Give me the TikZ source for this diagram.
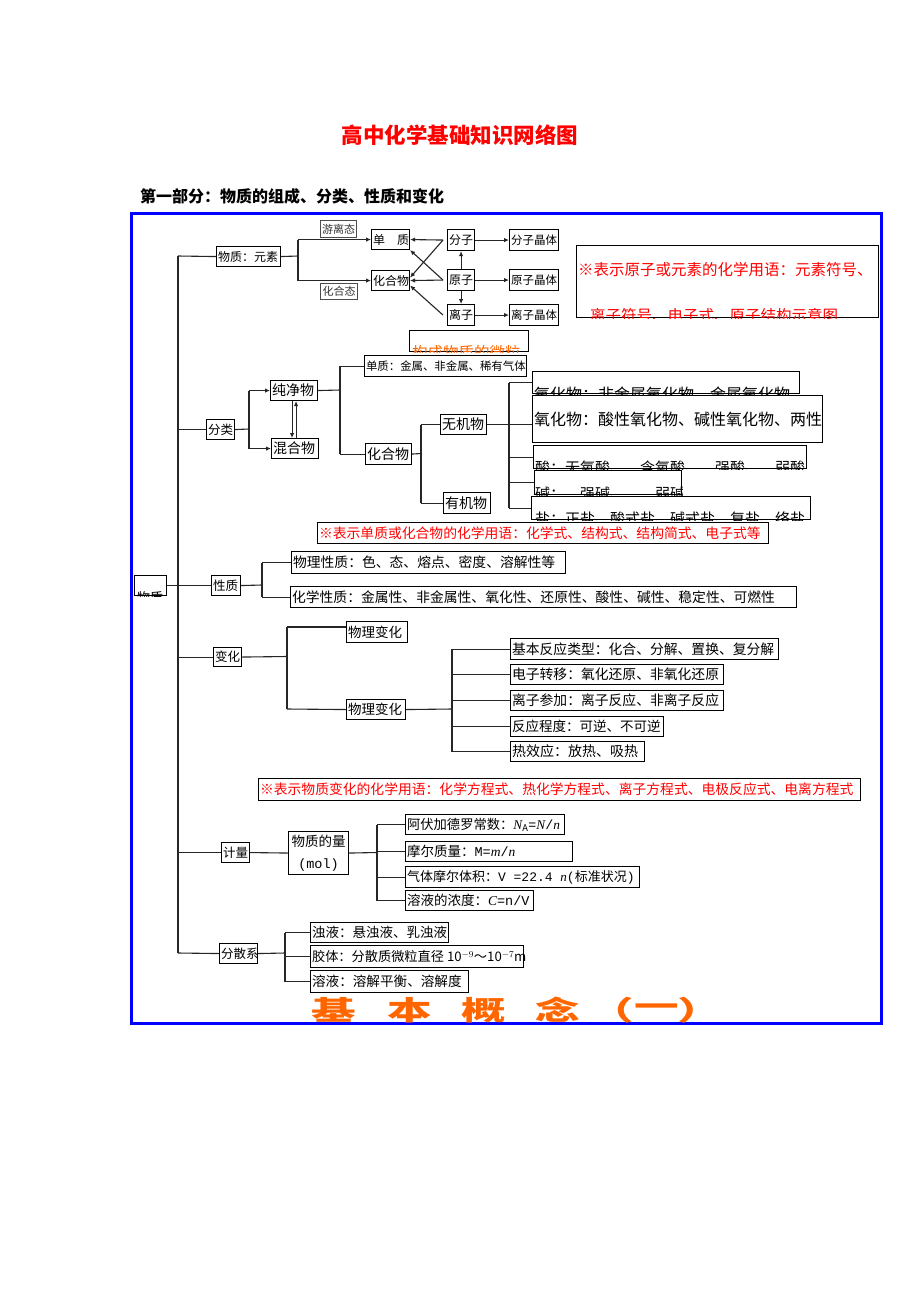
\documentclass[tikz,border=0pt]{standalone}
\usepackage{fontspec}
\setmainfont{Noto Sans CJK SC}
\newfontfamily\lat{Liberation Serif}
\newfontfamily\mono{Liberation Mono}
\usetikzlibrary{arrows.meta}
\definecolor{bl}{RGB}{0,0,255}
\definecolor{rd}{RGB}{255,0,0}
\definecolor{og}{RGB}{255,102,0}
\tikzset{
  box/.style={draw=black,line width=1.1pt,inner sep=0pt,fill=white},
  ln/.style={draw=black!85,line width=1.1pt},
  arr/.style={ln,-{Latex[length=5pt,width=4.5pt]}}
}
% name x y w h fontsize text
\newcommand\mybx[7]{\node[box,anchor=north west,minimum height=#5pt] (#1) at (#2,#3) {\makebox[#4pt][l]{\fontsize{#6}{#6}\selectfont\hspace{1.5pt}#7}};}
% name x y w h fontsize text textx baseline  (text clipped by the box)
\newcommand\mycbx[9]{\node[box,anchor=north west,minimum width=#4pt,minimum height=#5pt] (#1) at (#2,#3) {};
  \begin{scope}\clip (#1.north west) rectangle (#1.south east);
  \node[anchor=base west,inner sep=0pt,font=\fontsize{#6}{#6}\selectfont] (#1t) at (#8,#9) {#7};
  \end{scope}}
\begin{document}
\begin{tikzpicture}[x=1pt,y=-1pt]
\useasboundingbox (0,0) rectangle (920,1302);
\fill[white] (0,0) rectangle (920,1302);

% titles
\node[text=rd,font=\fontsize{21.5}{21.5}\selectfont\bfseries,inner sep=0pt] (title) at (460,135.5) {高中化学基础知识网络图};
\node[anchor=west,font=\fontsize{16}{16}\selectfont\bfseries,inner sep=0pt] (sub) at (140,196) {第一部分：物质的组成、分类、性质和变化};

% frame
\draw[bl,line width=3pt] (131,213.5) rectangle (881,1023.5);

% ---------- section 1 ----------
\mybx{wz}{216}{246}{64}{20}{12}{物质：元素}
\node[box,draw=black!70,anchor=north west,minimum width=36pt,minimum height=17pt,font=\fontsize{11}{11}\selectfont,text=black!80] (yl) at (320,220) {游离态};
\node[box,draw=black!70,anchor=north west,minimum width=37pt,minimum height=16pt,font=\fontsize{11}{11}\selectfont,text=black!80] (hht) at (320,283) {化合态};
\mybx{dz}{371}{229}{38}{20}{12}{单　质}
\mybx{hhw}{371}{270}{38}{20}{12}{化合物}
\mybx{fz}{447}{229}{27}{21}{12}{分子}
\mybx{yz}{447}{269}{27}{21}{12}{原子}
\mybx{lz}{447}{304}{27}{21}{12}{离子}
\mybx{fzjt}{509}{229}{49}{21}{11.5}{分子晶体}
\mybx{yzjt}{509}{269}{49}{21}{11.5}{原子晶体}
\mybx{lzjt}{509}{304}{49}{21}{11.5}{离子晶体}

\mycbx{n1}{576}{245}{302}{72}{15.5}{\color{rd}离子符号、电子式、原子结构示意图}{590}{321}
\node[anchor=west,inner sep=0pt,text=rd,font=\fontsize{15.5}{15.5}\selectfont] (n1a) at (578,270) {※表示原子或元素的化学用语：元素符号、};

\mycbx{gc}{409}{330}{119}{21}{15.5}{\color{og}构成物质的微粒}{412}{358}

% ---------- 分类 ----------
\mybx{fl}{206}{419}{28}{20}{12.5}{分类}
\mybx{cjw}{270}{380}{47}{20}{14}{纯净物}
\mybx{hhw2}{271}{438}{47}{20}{14}{混合物}
\mybx{dzjs}{364}{355}{162}{21}{11.4}{单质：金属、非金属、稀有气体}
\mybx{hhw3}{365}{443}{46}{21}{14}{化合物}
\mybx{wjw}{440}{414}{46}{20}{14}{无机物}
\mybx{yjw}{443}{492}{47}{21}{14}{有机物}
\mycbx{b1}{532}{371}{267}{22}{16}{氧化物：非金属氧化物、金属氧化物}{534}{400}
\mybx{b2}{532}{395}{290}{47}{16}{氧化物：酸性氧化物、碱性氧化物、两性}
\mycbx{b3}{533}{445}{273}{23}{15}{酸：无氧酸、　含氧酸、　强酸、　弱酸}{535}{473}
\mycbx{b4}{534}{470}{147}{24}{15}{碱：　强碱、　　弱碱}{535}{499.5}
\mycbx{b5}{531}{496}{279}{23}{15}{盐：正盐、酸式盐、碱式盐、复盐、络盐}{535}{524.5}

\mybx{n2}{317}{522}{451}{21}{13.8}{\color{rd}※表示单质或化合物的化学用语：化学式、结构式、结构简式、电子式等}

% ---------- 性质 ----------
\mycbx{root}{134}{575}{32}{20}{13}{物质}{137}{602}
\mybx{xz}{211}{575}{29}{20}{12.5}{性质}
\mybx{wlxz}{291}{551}{274}{22}{13.8}{物理性质：色、态、熔点、密度、溶解性等}
\mybx{hxxz}{290}{586}{506}{21}{13.8}{化学性质：金属性、非金属性、氧化性、还原性、酸性、碱性、稳定性、可燃性}

% ---------- 变化 ----------
\mybx{bh}{213}{647}{28}{19}{12.5}{变化}
\mybx{wlbh1}{346}{621}{61}{21}{13.5}{物理变化}
\mybx{wlbh2}{346}{699}{59}{20}{13.5}{物理变化}
\mybx{r1}{510}{638}{268}{21}{13.8}{基本反应类型：化合、分解、置换、复分解}
\mybx{r2}{510}{664}{213}{20}{13.8}{电子转移：氧化还原、非氧化还原}
\mybx{r3}{510}{690}{213}{20}{13.8}{离子参加：离子反应、非离子反应}
\mybx{r4}{510}{716}{153}{20}{13.5}{反应程度：可逆、不可逆}
\mybx{r5}{510}{741}{134}{20}{14}{热效应：放热、吸热}

\mybx{n3}{258}{778}{602}{22}{13.8}{\color{rd}※表示物质变化的化学用语：化学方程式、热化学方程式、离子方程式、电极反应式、电离方程式}

% ---------- 计量 ----------
\mybx{jl}{221}{842}{28}{20}{12.5}{计量}
\node[box,anchor=north west,minimum width=60pt,minimum height=43pt,align=center,font=\fontsize{13.5}{22}\selectfont] (wzdl) at (288,831) {物质的量\\{\mono (mol)}};
\mybx{a1}{405}{814}{159}{20}{13.3}{阿伏加德罗常数：{\lat\itshape N}$_{\rm A}${\mono =}{\lat\itshape N}{\mono /}{\lat\itshape n}}
\mybx{a2}{405}{841}{167}{20}{13.5}{摩尔质量：{\mono M=}{\lat\itshape m}{\mono /}{\lat\itshape n}}
\mybx{a3}{405}{866}{234}{21}{13}{气体摩尔体积：{\mono V =22.4 }{\lat\itshape n}{\mono (}标准状况{\mono )}}
\mybx{a4}{405}{890}{128}{20}{13.5}{溶液的浓度：{\lat\itshape C}{\mono =n/V}}

% ---------- 分散系 ----------
\mybx{fsx}{219}{943}{38}{20}{12.5}{分散系}
\mybx{c1}{310}{922}{138}{20}{13.5}{浊液：悬浊液、乳浊液}
\mybx{c2}{310}{945}{213}{22}{13.2}{胶体：分散质微粒直径 10$^{-9}$～10$^{-7}$m}
\mybx{c3}{310}{970}{158}{22}{13.6}{溶液：溶解平衡、溶解度}

% bottom title
\foreach \ch/\cx/\nm in {基/334/k1,本/410/k2,概/484/k3,念/558/k4,（/612/k5,一/657/k6,）/700/k7}{
  \node[text=og,inner sep=0pt,font=\fontsize{27}{27}\selectfont\bfseries] (\nm) at (\cx,1010) {\scalebox{1.65}[1]{\ch}};
}

% ---------- connectors ----------
\coordinate (tt) at (178,256);
\coordinate (tb) at (178,953);
\draw[ln] (tt) -- (tb);
\draw[ln] (tt) -- (wz.west);
\draw[ln] (fl.west -| tt) -- (fl.west);
\draw[ln] (root.east) -- (xz.west);
\draw[ln] (bh.west -| tt) -- (bh.west);
\draw[ln] (jl.west -| tt) -- (jl.west);
\draw[ln] (tb) -- (fsx.west);

% section 1
\coordinate (j1) at (298,256);
\draw[ln] (wz.east) -- (j1);
\draw[ln] (j1 |- dz.west) -- (j1 |- hhw.west);
\draw[arr] (j1 |- dz.west) -- (dz.west);
\draw[arr] (j1 |- hhw.west) -- (hhw.west);
\draw[arr] (fz.east) -- (fzjt.west);
\draw[arr] (yz.east) -- (yzjt.west);
\draw[arr] (lz.east) -- (lzjt.west);
\draw[arr] (yz.north) -- (fz.south);
\draw[arr] (yz.south) -- (lz.north);
\draw[arr] ([xshift=-4pt]fz.west) -- (dz.east);
\draw[arr] ([xshift=-4pt]fz.west) -- ([yshift=3pt]hhw.east);
\draw[arr] ([xshift=-4pt]yz.west) -- (dz.south east);
\draw[arr] ([xshift=-4pt]yz.west) -- (hhw.east);
\draw[arr] ([xshift=-4pt]lz.west) -- ([yshift=-5pt]hhw.east);

% 分类
\coordinate (j2) at (249,429);
\draw[ln] (fl.east) -- (j2);
\draw[ln] (j2 |- cjw.west) -- (j2 |- hhw2.west);
\draw[arr] (j2 |- cjw.west) -- (cjw.west);
\draw[arr] (j2 |- hhw2.west) -- (hhw2.west);
\draw[arr] ([xshift=-2pt]cjw.south) -- ([xshift=-2pt]cjw.south |- hhw2.north);
\draw[arr] ([xshift=2pt]cjw.south |- hhw2.north) -- ([xshift=2pt]cjw.south);
\coordinate (j3) at (340,390);
\draw[ln] (cjw.east) -- (j3);
\draw[ln] (j3 |- dzjs.west) -- (j3 |- hhw3.west);
\draw[ln] (j3 |- dzjs.west) -- (dzjs.west);
\draw[ln] (j3 |- hhw3.west) -- (hhw3.west);
\coordinate (j4) at (421,453.5);
\draw[ln] (hhw3.east) -- (j4);
\draw[ln] (j4 |- wjw.west) -- (j4 |- yjw.west);
\draw[ln] (j4 |- wjw.west) -- (wjw.west);
\draw[ln] (j4 |- yjw.west) -- (yjw.west);
\coordinate (j5) at (509,424);
\draw[ln] (wjw.east) -- (wjw.east -| b2.west);
\draw[ln] (j5 |- b1.west) -- (j5 |- b5.west);
\draw[ln] (j5 |- b1.west) -- (b1.west);
\draw[ln] (j5 |- b3.west) -- (b3.west);
\draw[ln] (j5 |- b4.west) -- (b4.west);
\draw[ln] (j5 |- b5.west) -- (b5.west);

% 性质
\coordinate (j6) at (262,585);
\draw[ln] (xz.east) -- (j6);
\draw[ln] (j6 |- wlxz.west) -- (j6 |- hxxz.west);
\draw[ln] (j6 |- wlxz.west) -- (wlxz.west);
\draw[ln] (j6 |- hxxz.west) -- (hxxz.west);

% 变化
\coordinate (j7) at (287,656.5);
\coordinate (j7a) at (287,627);
\coordinate (j7b) at (287,709);
\draw[ln] (bh.east) -- (j7);
\draw[ln] (j7a) -- (j7b);
\draw[ln] (j7a) -- (j7a -| wlbh1.west);
\draw[ln] (j7b) -- (wlbh2.west);
\coordinate (j8) at (452,709);
\draw[ln] (wlbh2.east) -- (j8);
\draw[ln] (j8 |- r1.west) -- (j8 |- r5.west);
\draw[ln] (j8 |- r1.west) -- (r1.west);
\draw[ln] (j8 |- r2.west) -- (r2.west);
\draw[ln] (j8 |- r3.west) -- (r3.west);
\draw[ln] (j8 |- r4.west) -- (r4.west);
\draw[ln] (j8 |- r5.west) -- (r5.west);

% 计量
\coordinate (j9) at (377,852.5);
\draw[ln] (jl.east) -- (wzdl.west);
\draw[ln] (wzdl.east) -- (j9);
\draw[ln] (j9 |- a1.west) -- (j9 |- a4.west);
\draw[ln] (j9 |- a1.west) -- (a1.west);
\draw[ln] (j9 |- a2.west) -- (a2.west);
\draw[ln] (j9 |- a3.west) -- (a3.west);
\draw[ln] (j9 |- a4.west) -- (a4.west);

% 分散系
\coordinate (j10) at (285,953);
\draw[ln] (fsx.east) -- (j10);
\draw[ln] (j10 |- c1.west) -- (j10 |- c3.west);
\draw[ln] (j10 |- c1.west) -- (c1.west);
\draw[ln] (j10 |- c2.west) -- (c2.west);
\draw[ln] (j10 |- c3.west) -- (c3.west);
\end{tikzpicture}
\end{document}
